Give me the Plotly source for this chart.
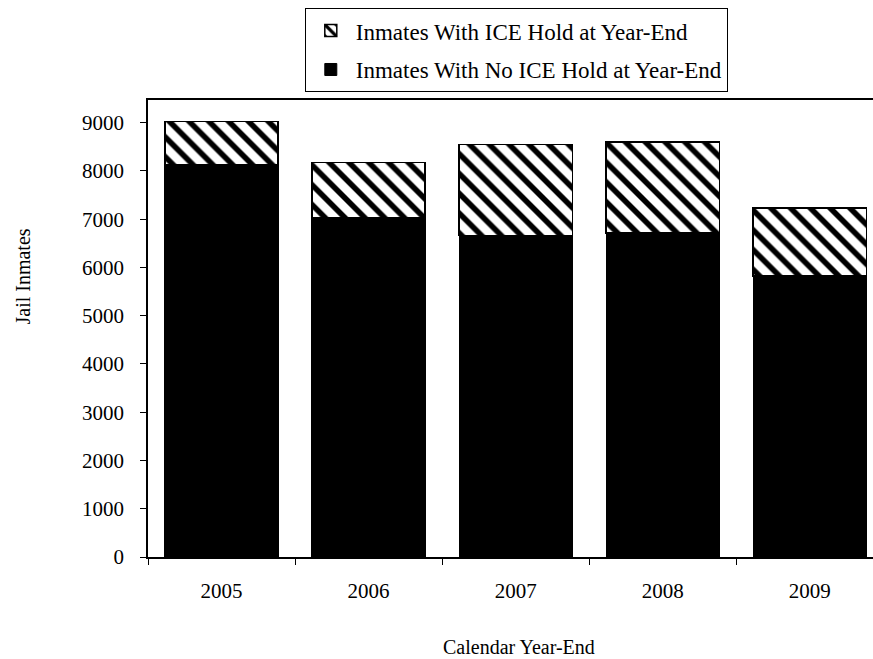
import plotly.graph_objects as go

years = ["2005", "2006", "2007", "2008", "2009"]
no_ice_hold = [8120, 7040, 6660, 6710, 5820]
ice_hold = [900, 1130, 1890, 1890, 1410]
y_ticks = [0, 1000, 2000, 3000, 4000, 5000, 6000, 7000, 8000, 9000]

FONT = "Liberation Serif"

fig = go.Figure()
fig.add_trace(go.Bar(
    x=years, y=no_ice_hold, name="Inmates With No ICE Hold at Year-End",
    legendgroup="b", legendrank=2,
    marker=dict(color="black", line=dict(color="black", width=1)),
))
fig.add_trace(go.Bar(
    x=years, y=ice_hold, name="Inmates With ICE Hold at Year-End",
    legendgroup="a", legendrank=1,
    marker=dict(color="white", line=dict(color="black", width=1.5),
                pattern=dict(shape="\\", fgcolor="black", bgcolor="white",
                             fgopacity=1, size=14, solidity=0.4)),
))

fig.update_layout(
    width=873, height=659,
    barmode="stack", bargap=0.23,
    plot_bgcolor="white", paper_bgcolor="white",
    margin=dict(l=148, r=0, t=100, b=102),
    font=dict(family=FONT, size=20, color="black"),
    legend=dict(
        x=0.508, y=1.201, xanchor="center", yanchor="top",
        traceorder="grouped", tracegroupgap=6,
        bordercolor="black", borderwidth=1,
        font=dict(family=FONT, size=23, color="black"),
        itemwidth=40,
    ),
    showlegend=True,
    annotations=[
        dict(text="Jail Inmates", xref="paper", yref="paper",
             x=-0.1724, y=0.6138, xanchor="center", yanchor="middle",
             textangle=-90, showarrow=False,
             font=dict(family=FONT, size=20, color="black")),
        dict(text="Calendar Year-End", xref="paper", yref="paper",
             x=0.5124, y=-0.197, xanchor="center", yanchor="middle",
             showarrow=False,
             font=dict(family=FONT, size=20, color="black")),
    ],
)
fig.update_xaxes(
    range=[-0.5, 4.43],
    showline=True, linecolor="black", linewidth=1.5, mirror=True,
    ticks="outside", tickson="boundaries", ticklen=6, tickcolor="black",
    ticklabelstandoff=14,
    tickfont=dict(family=FONT, size=21),
    showgrid=False,
)
fig.update_yaxes(
    range=[0, 9470],
    tickvals=y_ticks,
    showline=True, linecolor="black", linewidth=1.5,
    ticks="outside", ticklen=6, tickcolor="black",
    ticklabelstandoff=12,
    tickfont=dict(family=FONT, size=21),
    showgrid=False, zeroline=False,
)

fig.write_html(
    "out.html",
    config={"displayModeBar": False},
    post_script="document.body.style.margin='0';document.body.style.overflow='hidden';",
)
